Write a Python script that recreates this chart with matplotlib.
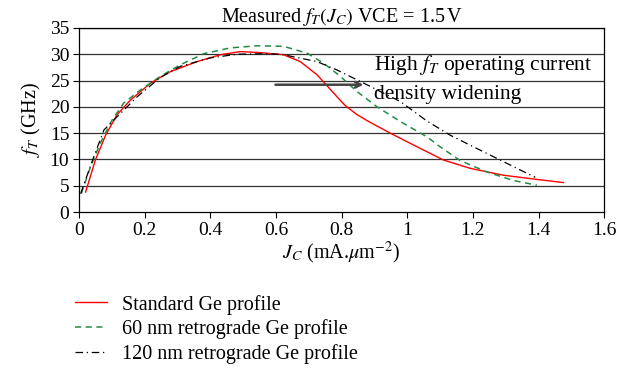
import matplotlib.pyplot as plt
from matplotlib.ticker import MultipleLocator

plt.rcParams['font.family'] = ['Liberation Serif', 'DejaVu Serif']
plt.rcParams['mathtext.fontset'] = 'stix'

# Standard Ge profile
std_x = [0.020, 0.050, 0.081, 0.116, 0.157, 0.218, 0.279, 0.36, 0.431, 0.492, 0.552,
         0.623, 0.674, 0.725, 0.776, 0.81, 0.845, 0.877, 0.948, 1.03, 1.11, 1.192,
         1.293, 1.395, 1.476]
std_y = [3.8, 9.9, 14.6, 18.5, 21.3, 24.5, 26.7, 28.6, 29.9, 30.5, 30.3,
         29.9, 28.6, 26.1, 22.6, 20.3, 18.6, 17.4, 15.0, 12.4, 9.9, 8.3,
         7.0, 6.2, 5.6]

# 60 nm retrograde Ge profile
r60_x = [0.007, 0.035, 0.065, 0.101, 0.136, 0.187, 0.248, 0.309, 0.38, 0.461, 0.542,
         0.623, 0.695, 0.745, 0.796, 0.847, 0.908, 0.979, 1.06, 1.1, 1.161, 1.243,
         1.323, 1.395]
r60_y = [3.5, 8.6, 13.1, 17.5, 20.7, 23.2, 25.8, 28.0, 30.1, 31.2, 31.6,
         31.5, 30.2, 28.3, 25.8, 22.9, 20.0, 17.2, 14.3, 12.4, 9.8, 7.6,
         6.0, 5.1]

# 120 nm retrograde Ge profile
r120_x = [0.005, 0.045, 0.076, 0.116, 0.177, 0.248, 0.309, 0.4, 0.482, 0.583, 0.623,
          0.725, 0.786, 0.877, 0.979, 1.06, 1.131, 1.192, 1.273, 1.344, 1.39]
r120_y = [3.5, 10.5, 15.6, 18.1, 21.9, 25.6, 27.7, 29.3, 30.0, 30.1, 29.9,
          28.6, 27.0, 24.2, 21.0, 17.3, 14.6, 12.7, 10.2, 8.0, 6.6]

fig = plt.figure(figsize=(6.32, 3.72), dpi=100)
ax = fig.add_axes([0.125, 0.430, 0.831, 0.495])

for y in range(5, 36, 5):
    ax.axhline(y, color='#333333', lw=0.9, zorder=1)

ax.plot(std_x, std_y, color='red', lw=1.0, label='Standard Ge profile', zorder=3)
ax.plot(r60_x, r60_y, color='#228b45', lw=1.1, ls=(0, (4, 3)),
        label='60 nm retrograde Ge profile', zorder=3)
ax.plot(r120_x, r120_y, color='black', lw=0.9, ls=(0, (6, 3, 1, 3)),
        label='120 nm retrograde Ge profile', zorder=3)

ax.annotate('', xy=(0.875, 24.2), xytext=(0.59, 24.2),
            arrowprops=dict(arrowstyle='->', color='#444444', lw=1.8), zorder=4)
ax.text(0.9, 28.0, r'High $f_T$ operating current', fontsize=15.5, va='center', ha='left')
ax.text(0.9, 22.3, 'density widening', fontsize=15.5, va='center', ha='left')

ax.set_xlim(0, 1.6)
ax.set_ylim(0, 35)
ax.set_xticks([0, 0.2, 0.4, 0.6, 0.8, 1.0, 1.2, 1.4, 1.6])
ax.set_xticklabels(['0', '0.2', '0.4', '0.6', '0.8', '1', '1.2', '1.4', '1.6'])
ax.yaxis.set_major_locator(MultipleLocator(5))
ax.tick_params(labelsize=14, direction='out', length=4, width=0.8, pad=3)
for s in ax.spines.values():
    s.set_linewidth(0.9)

ax.set_title(r'Measured $f_T(J_C)$ VCE = 1.5$\,$V', fontsize=14.5, pad=3)
ax.set_xlabel(r'$J_C$ (mA.$\mu$m$^{-2}$)', fontsize=14.5, labelpad=1)
ax.set_ylabel(r'$f_T$ (GHz)', fontsize=14.5, labelpad=5)

fig.legend(loc='upper left', bbox_to_anchor=(0.119, 0.208), frameon=False,
           fontsize=14.5, handlelength=1.6, labelspacing=0.25, borderpad=0,
           borderaxespad=0, handletextpad=0.7)

fig.savefig('out.png', dpi=100)
